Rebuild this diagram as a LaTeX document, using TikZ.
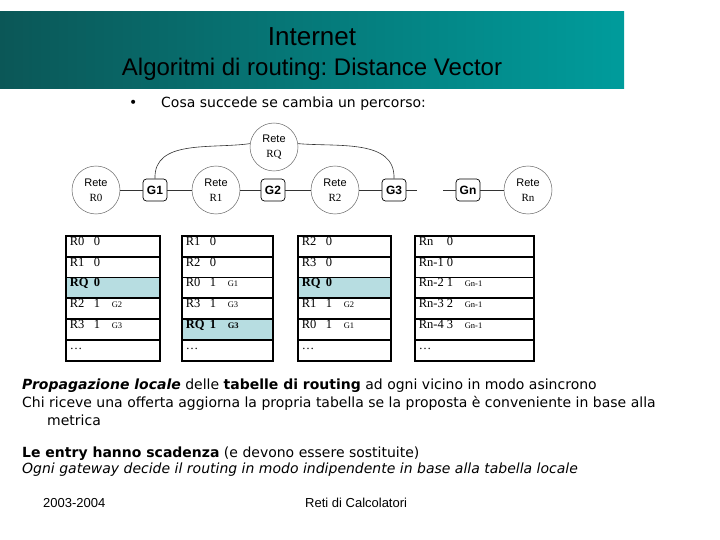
\documentclass[tikz,border=0pt]{standalone}
\usepackage{fontspec}
\usepackage{xcolor}
\usetikzlibrary{positioning}
\newfontfamily\slidefont{Liberation Sans}
\newfontfamily\tabfont{Liberation Serif}
\newfontfamily\bodyfont{DejaVu Sans}
\frenchspacing
\definecolor{bandleft}{HTML}{0B5757}
\definecolor{bandright}{HTML}{009C9C}
\definecolor{hlblue}{HTML}{B7DDE1}
\tikzset{
  rete/.style={
    circle,
    draw=black!60,
    line width=0.5pt,
    minimum size=48pt,
    inner sep=0pt,
    align=center
  },
  gwbox/.style={
    rectangle,
    rounded corners=3.5pt,
    draw=black,
    line width=0.7pt,
    minimum width=24pt,
    minimum height=22pt,
    inner sep=0pt,
    font=\slidefont\bfseries\fontsize{12}{12}\selectfont
  },
  link/.style={
    draw=black!80,
    line width=0.6pt
  },
  cell/.style={
    draw,
    line width=1.7pt,
    minimum height=20.8pt,
    inner xsep=4pt,
    inner ysep=0pt,
    text height=7pt,
    text depth=9pt,
    align=left,
    font=\tabfont\fontsize{12.5}{12.5}\selectfont
  },
  hlcell/.style={
    cell,
    fill=hlblue
  },
  bodytext/.style={
    anchor=west,
    inner sep=0pt,
    font=\bodyfont\fontsize{14}{15}\selectfont
  }
}
\def\tabTop{235}
\def\rowH{20.8}
% one table row: name, distance, gateway
\newcommand\entry[4][24pt]{\makebox[#1][l]{#2}\makebox[18pt][l]{#3}{\fontsize{8.5}{8.5}\selectfont #4}}
\newcommand\rtxt[2]{{\slidefont\fontsize{11}{11}\selectfont Rete}\\[3pt]{\tabfont\fontsize{11}{11}\selectfont #2}}
% table: name, left x, width, rows
\newcommand\routetable[4]{%
  \pgfmathsetmacro\tabTW{#3-8}
  \foreach \cstyle/\ctext [count=\i] in {#4} {
    \node[\cstyle, minimum width=#3pt, text width=\tabTW pt, anchor=north west]
      (#1\i) at (#2, {\tabTop+(\i-1)*\rowH}) {\ctext};
  }}

\begin{document}
\begin{tikzpicture}[x=1pt, y=-1pt]
  \useasboundingbox (0,0) rectangle (720,540);

  % title band
  \shade[left color=bandleft, right color=bandright] (0,12) rectangle (624,89);
  \node[font=\slidefont\fontsize{26}{26}\selectfont] (title) at (312,37) {Internet};
  \node[font=\slidefont\fontsize{24}{24}\selectfont] (subtitle) at (312,69) {Algoritmi di routing: Distance Vector};

  \node[bodytext] (bullet) at (129,104) {\textbullet};
  \node[bodytext] (question) at (161,104) {Cosa succede se cambia un percorso:};

  % networks and gateways
  \node[rete] (R0) at (96,190) {\rtxt{Rete}{R0}};
  \node[gwbox] (G1) at (155,190) {G1};
  \node[rete] (R1) at (216,190) {\rtxt{Rete}{R1}};
  \node[gwbox] (G2) at (273,190) {G2};
  \node[rete] (R2) at (335,190) {\rtxt{Rete}{R2}};
  \node[gwbox] (G3) at (394,190) {G3};
  \node[gwbox] (Gn) at (468,190) {Gn};
  \node[rete] (Rn) at (528,190) {\rtxt{Rete}{Rn}};
  \node[rete] (RQ) at (274,147) {\rtxt{Rete}{RQ}};
  \coordinate (gapL) at (417,190);
  \coordinate (gapR) at (443,190);

  \draw[link] (R0) -- (G1) -- (R1) -- (G2) -- (R2) -- (G3) -- (gapL);
  \draw[link] (gapR) -- (Gn) -- (Rn);
  \draw[link] (G1.north) to[out=92, in=188] (RQ.172);
  \draw[link] (RQ.8) to[out=-5, in=88] (G3.north);

  % routing tables
  \routetable{ta}{65}{94}{cell/\entry{R0}{0}{}, cell/\entry{R1}{0}{},
    hlcell/\textbf{\entry{RQ}{0}{}}, cell/\entry{R2}{1}{G2},
    cell/\entry{R3}{1}{G3}, cell/\dots}
  \routetable{tb}{181}{91}{cell/\entry{R1}{0}{}, cell/\entry{R2}{0}{},
    cell/\entry{R0}{1}{G1}, cell/\entry{R3}{1}{G3},
    hlcell/\textbf{\entry{RQ}{1}{G3}}, cell/\dots}
  \routetable{tc}{297}{93}{cell/\entry{R2}{0}{}, cell/\entry{R3}{0}{},
    hlcell/\textbf{\entry{RQ}{0}{}}, cell/\entry{R1}{1}{G2},
    cell/\entry{R0}{1}{G1}, cell/\dots}
  \routetable{td}{414}{119}{cell/\entry[28pt]{Rn}{0}{}, cell/\entry[28pt]{Rn-1}{0}{},
    cell/\entry[28pt]{Rn-2}{1}{Gn-1}, cell/\entry[28pt]{Rn-3}{2}{Gn-1},
    cell/\entry[28pt]{Rn-4}{3}{Gn-1}, cell/\dots}

  % explanation
  \node[bodytext] (line1) at (22,386) {\textbf{\textit{Propagazione locale}} delle \textbf{tabelle di routing} ad ogni vicino in modo asincrono};
  \node[bodytext] (line2) at (22,403) {Chi riceve una offerta aggiorna la propria tabella se la proposta è conveniente in base alla};
  \node[bodytext] (line3) at (47,420) {metrica};
  \node[bodytext] (line4) at (22,454) {\textbf{Le entry hanno scadenza} (e devono essere sostituite)};
  \node[bodytext] (line5) at (22,470) {\textit{Ogni gateway decide il routing in modo indipendente in base alla tabella locale}};

  % footer
  \node[anchor=west, inner sep=0pt, font=\slidefont\fontsize{13}{13}\selectfont] (year) at (43,503) {2003-2004};
  \node[anchor=west, inner sep=0pt, font=\slidefont\fontsize{13}{13}\selectfont] (course) at (305,503) {Reti di Calcolatori};
\end{tikzpicture}
\end{document}
